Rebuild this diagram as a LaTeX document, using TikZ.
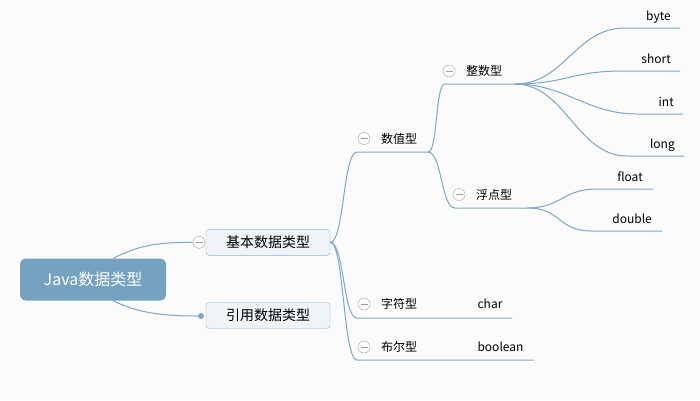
\documentclass[tikz,border=0pt]{standalone}
\usepackage{fontspec}
\setmainfont{Noto Sans CJK SC}
\usepackage{xcolor}
\definecolor{canvas}{RGB}{251,251,252}
\definecolor{rootblue}{RGB}{118,162,193}
\definecolor{boxfill}{RGB}{238,244,248}
\definecolor{boxline}{RGB}{143,179,205}
\definecolor{branchcol}{RGB}{126,167,200}
\definecolor{foldgray}{RGB}{158,158,158}
\usetikzlibrary{positioning,calc}

\begin{document}
\begin{tikzpicture}[
        x=1pt, y=-1pt,
        root/.style={rectangle, rounded corners=6pt, fill=rootblue, text=white, minimum width=146pt, minimum height=42pt, inner sep=0pt, font=\fontsize{16}{18}\selectfont},
        mainbox/.style={rectangle, rounded corners=3pt, draw=boxline, fill=boxfill, minimum width=124pt, minimum height=26pt, inner sep=0pt, font=\fontsize{14}{16}\selectfont},
        topic/.style={inner sep=0pt, font=\fontsize{12}{14}\selectfont},
        leaf/.style={inner sep=0pt, font=\fontsize{12}{14}\selectfont},
        fold/.style={circle, draw=foldgray, fill=white, minimum size=12pt, inner sep=0pt,
            path picture={\draw[foldgray] ([xshift=-3.5pt]path picture bounding box.center) -- ([xshift=3.5pt]path picture bounding box.center);}},
        knob/.style={circle, fill=branchcol, minimum size=6pt, inner sep=0pt},
        branch/.style={draw=branchcol, line width=1pt}
    ]
        \fill[canvas] (0,0) rectangle (700,400);
        \useasboundingbox (0,0) rectangle (700,400);

        % root and main branches
        \node[root] (root) at (93,279.5) {Java数据类型};
        \node[mainbox] (jb) at (268,242.3) {基本数据类型};
        \node[mainbox] (yy) at (268,315.5) {引用数据类型};
        \node[fold] (jb-fold) at (199,242.3) {};
        \node[knob] (yy-knob) at (201,316) {};

        \draw[branch] ([xshift=20pt]root.north) .. controls +(25,-12) and +(-40,0) .. (jb-fold.west);
        \draw[branch] ([xshift=20pt]root.south) .. controls +(25,12) and +(-40,0) .. (yy-knob);

        % second level
        \coordinate (sz-l) at (357,152);  \coordinate (sz-r) at (428,152);
        \coordinate (zf-l) at (357,318);  \coordinate (zf-r) at (512,318);
        \coordinate (be-l) at (357,360);  \coordinate (be-r) at (534,360);
        \node[topic] (sz) at (399,139) {数值型};
        \node[topic] (zf) at (399,304) {字符型};
        \node[topic] (be) at (399,347) {布尔型};
        \node[fold] (sz-fold) at (364,138.5) {};
        \node[fold] (zf-fold) at (364,304) {};
        \node[fold] (be-fold) at (364,347) {};
        \node[leaf] (char) at (490,304) {char};
        \node[leaf] (boolean) at (500.5,347) {boolean};

        \draw[branch] (jb.east) .. controls +(14,0) and +(-14,0) .. (sz-l) -- (sz-r);
        \draw[branch] (jb.east) .. controls +(14,0) and +(-14,0) .. (zf-l) -- (zf-r);
        \draw[branch] (jb.east) .. controls +(14,0) and +(-14,0) .. (be-l) -- (be-r);

        % third level
        \coordinate (zs-l) at (445,84);  \coordinate (zs-r) at (515,84);
        \coordinate (fd-l) at (455,208); \coordinate (fd-r) at (527,208);
        \node[topic] (zs) at (484,71) {整数型};
        \node[topic] (fd) at (494,195) {浮点型};
        \node[fold] (zs-fold) at (449,71) {};
        \node[fold] (fd-fold) at (459,194.5) {};

        \draw[branch] (sz-r) .. controls +(10,0) and +(-10,0) .. (zs-l) -- (zs-r);
        \draw[branch] (sz-r) .. controls +(14,0) and +(-14,0) .. (fd-l) -- (fd-r);

        % leaves
        \foreach \leafname/\xa/\xb/\yl in {byte/625/680/28, short/622/680/71, int/637/683/114, long/627/684/156} {
            \coordinate (\leafname-l) at (\xa,\yl);
            \coordinate (\leafname-r) at (\xb,\yl);
            \node[leaf, anchor=base east] (\leafname) at (\xb-9,\yl-8) {\leafname};
            \draw[branch] (zs-r) .. controls +(50,0) and +(-50,0) .. (\leafname-l) -- (\leafname-r);
        }
        \foreach \leafname/\xa/\xb/\yl in {float/597/653/189, double/592/662/231} {
            \coordinate (\leafname-l) at (\xa,\yl);
            \coordinate (\leafname-r) at (\xb,\yl);
            \node[leaf, anchor=base east] (\leafname) at (\xb-10,\yl-8) {\leafname};
            \draw[branch] (fd-r) .. controls +(35,0) and +(-35,0) .. (\leafname-l) -- (\leafname-r);
        }
    \end{tikzpicture}
\end{document}
